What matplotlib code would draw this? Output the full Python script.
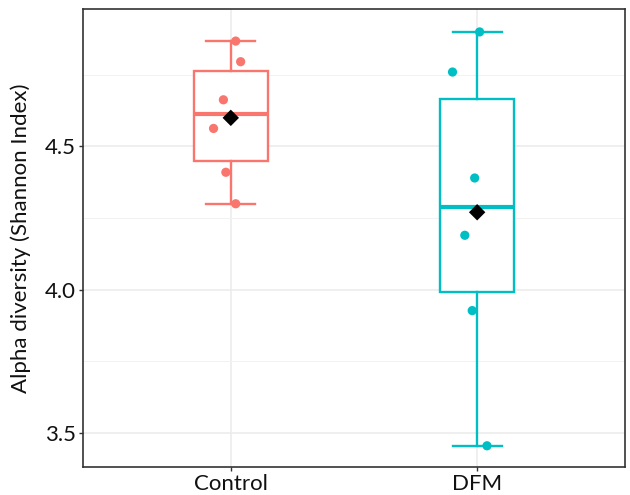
import numpy as np
import matplotlib.pyplot as plt
from matplotlib.ticker import MultipleLocator

plt.rcParams['font.family'] = ['Lato', 'DejaVu Sans']

# data
groups = ['Control', 'DFM']
colors = ['#F8766D', '#00BFC4']
control = [4.868, 4.796, 4.663, 4.563, 4.41, 4.30]
dfm = [4.90, 4.76, 4.39, 4.19, 3.927, 3.455]
# horizontal jitter of the points (as seen in the picture)
control_jit = [0.02, 0.04, -0.03, -0.07, -0.02, 0.02]
dfm_jit = [0.01, -0.10, -0.01, -0.05, -0.02, 0.04]

values = [control, dfm]
jitters = [control_jit, dfm_jit]

fig = plt.figure(figsize=(6.3, 4.95), dpi=100)
ax = fig.add_axes([0.1317, 0.0566, 0.8603, 0.9252])

for i, (vals, jit, col) in enumerate(zip(values, jitters, colors)):
    pos = i + 1
    ax.boxplot([vals], positions=[pos], widths=0.30, whis=1.5,
               patch_artist=True, showfliers=False, capwidths=0.20,
               boxprops=dict(facecolor='white', edgecolor=col, linewidth=1.7),
               whiskerprops=dict(color=col, linewidth=1.7),
               capprops=dict(color=col, linewidth=1.7),
               medianprops=dict(color=col, linewidth=3.0),
               zorder=3)
    ax.scatter(np.array(jit) + pos, vals, s=44, color=col, zorder=4,
               edgecolors='none')
    ax.scatter([pos], [np.mean(vals)], marker='D', s=70, color='black',
               zorder=5, edgecolors='none')

ax.set_xlim(0.4, 2.6)
ax.set_ylim(3.381, 4.98)
ax.set_xticks([1, 2])
ax.set_xticklabels(groups)
ax.yaxis.set_major_locator(MultipleLocator(0.5))
ax.yaxis.set_minor_locator(MultipleLocator(0.25))
ax.yaxis.set_major_formatter(plt.FormatStrFormatter('%.1f'))

ax.grid(True, which='major', color='#EBEBEB', linewidth=1.1, zorder=0)
ax.grid(True, which='minor', axis='y', color='#F2F2F2', linewidth=0.7, zorder=0)
ax.set_axisbelow(True)

for s in ax.spines.values():
    s.set_color('#333333')
    s.set_linewidth(1.2)

ax.tick_params(axis='both', which='major', length=3, width=1, color='#333333',
               labelsize=16, labelcolor='#111111', pad=2)
ax.tick_params(axis='y', which='minor', length=0)
ax.set_ylabel('Alpha diversity (Shannon Index)', fontsize=16, color='#111111',
              labelpad=10)

fig.savefig('out.png', dpi=100)
